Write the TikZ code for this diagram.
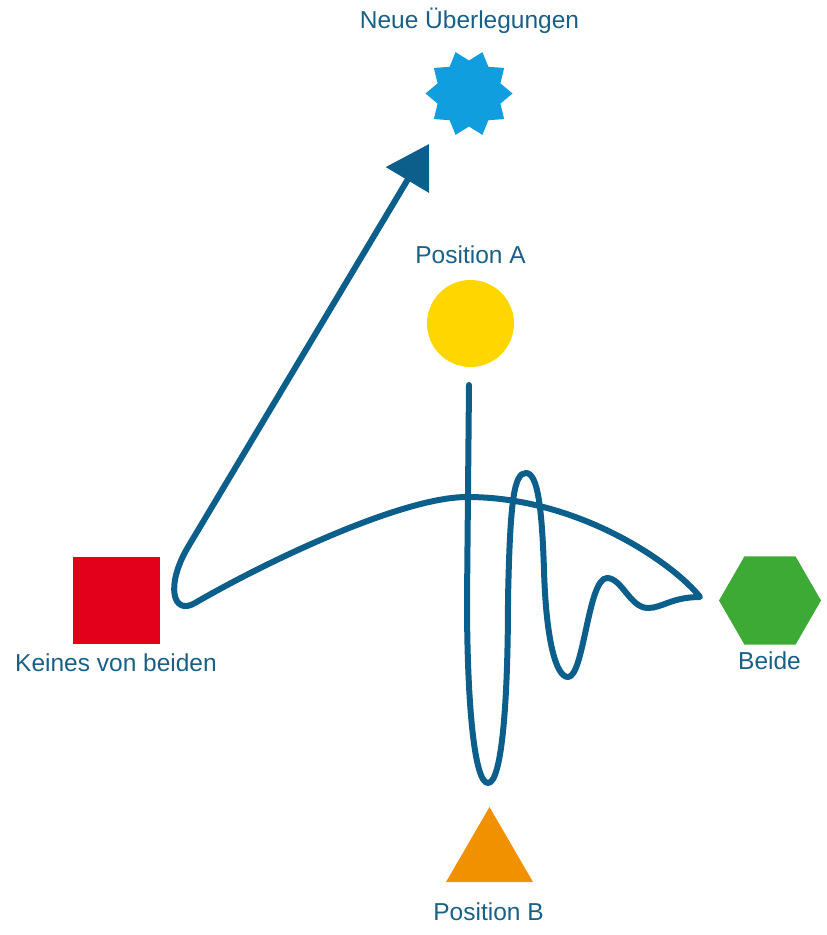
\documentclass[tikz,border=0pt]{standalone}
\usepackage{fontspec}
\setmainfont{Liberation Sans}
\usetikzlibrary{arrows.meta,calc}
\definecolor{curveblue}{RGB}{12,94,139}
\definecolor{textblue}{RGB}{25,96,135}
\definecolor{starblue}{RGB}{16,158,222}
\definecolor{sunyellow}{RGB}{255,214,0}
\definecolor{boxred}{RGB}{226,0,26}
\definecolor{hexgreen}{RGB}{61,170,53}
\definecolor{triorange}{RGB}{241,145,0}
\tikzset{
  lbl/.style={anchor=base, inner sep=0pt, text=textblue, font=\fontsize{24.5}{29}\selectfont},
  curve/.style={draw=curveblue, line width=6pt, line cap=round, line join=round},
}
\begin{document}
\begin{tikzpicture}[x=1pt, y=-1pt]
\useasboundingbox (0,0) rectangle (827,935);

% star
\coordinate (starc) at (469,93.5);
\fill[starblue] ($(starc)+(0:43.5)$)
  \foreach \k in {1,...,19} { -- ($(starc)+({\k*18}:{ifthenelse(mod(\k,2)==1,33,43.5)})$) } -- cycle;
\node[lbl] (tneu) at (469.5,28) {Neue Überlegungen};

% circle
\node[circle, fill=sunyellow, minimum size=87pt, inner sep=0pt] (posA) at (470.5,323.5) {};
\node[lbl] (tA) at (470.5,263) {Position A};

% square
\node[rectangle, fill=boxred, minimum size=87pt, inner sep=0pt] (keines) at (116.5,600.5) {};
\node[lbl] (tK) at (116,671) {Keines von beiden};

% hexagon
\coordinate (hexc) at (770,600.5);
\fill[hexgreen] (821,600.5) -- (795.5,556.3) -- (744.5,556.3) -- (719,600.5) -- (744.5,644.7) -- (795.5,644.7) -- cycle;
\node[lbl] (tBeide) at (769.5,669) {Beide};

% triangle
\coordinate (tric) at (489.5,857);
\fill[triorange] (489.5,807) -- (533,882) -- (446,882) -- cycle;
\node[lbl] (tB) at (488.5,920) {Position B};

% path points
\coordinate (start) at (469,385);
\coordinate (tip) at (429,144);

% curve
\draw[curve, -{Triangle[length=42pt,width=49pt]}]
  (start) -- (467,600)
  .. controls (467,700) and (474,783) .. (488,783)
  .. controls (502,783) and (508,700) .. (508,600)
  .. controls (510,500) and (514,473) .. (526,473)
  .. controls (538,473) and (542,510) .. (544,570)
  .. controls (546,640) and (556,677) .. (568,677)
  .. controls (584,677) and (588,578) .. (607,578)
  .. controls (622,578) and (630,608) .. (648,608)
  .. controls (662,608) and (672,597) .. (700,597)
  .. controls (675,565) and (580,497) .. (467,497)
  .. controls (400,497) and (260,565) .. (195,603)
  .. controls (173,616) and (165,586) .. (188,547)
  -- (tip);
\end{tikzpicture}
\end{document}
